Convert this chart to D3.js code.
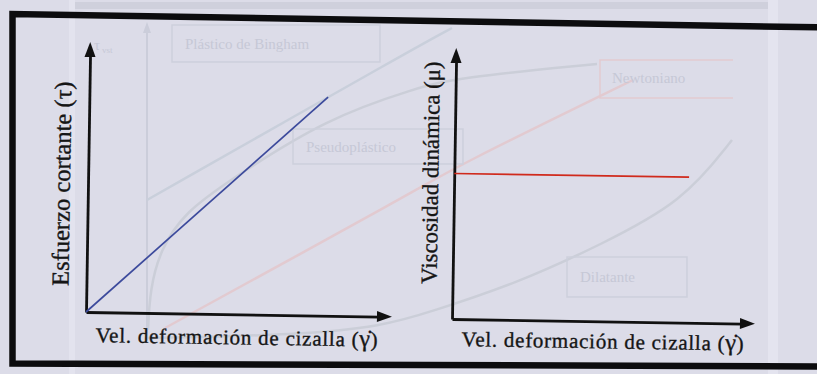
<!DOCTYPE html>
<html>
<head>
<meta charset="utf-8">
<script src="https://cdn.jsdelivr.net/npm/d3@7/dist/d3.min.js"></script>
<style>
    body { margin: 0; background: #dcdce8; }
    svg { display: block; }
</style>
</head>
<body>
<div id="chart"></div>
<script>
// left panel: newtonian fluid, shear stress grows linearly with shear rate
const rateLeft = [0, 0.78];
const stress = [0, 0.81];
// right panel: viscosity stays constant
const rateRight = [0, 0.775];
const viscosity = [0.537, 0.537];

const xLabel = "Vel. deformación de cizalla (";
const yLabels = ["Esfuerzo cortante (τ)", "Viscosidad dinámica (μ)"];

// faded figure showing through from the slide behind
const ghostBingham = [[147, 200], [420, 45], [452, 28]];
const ghostPseudo = [[148, 330], [150, 290], [160, 250], [185, 212], [230, 180], [327, 118], [417, 88], [455, 78], [597, 64]];
const ghostNewton = [[165, 328], [417, 190], [453, 168], [633, 80]];
const ghostDilat = [[147, 338], [300, 335], [383, 326], [430, 312], [520, 282], [600, 245], [683, 202], [732, 140]];
const ghostBoxes = [
    {text: "Plástico de Bingham", x: 172, y: 25, w: 208, h: 37, c: "#cdcfdc"},
    {text: "Pseudoplástico", x: 293, y: 129, w: 170, h: 35, c: "#cdcfdc"},
    {text: "Dilatante", x: 567, y: 257, w: 120, h: 40, c: "#cdcfdc"}
];

const W = 817, H = 374;
const svg = d3.select("#chart").append("svg")
    .attr("width", W)
    .attr("height", H);

svg.append("rect").attr("width", W).attr("height", H).attr("fill", "#dcdce8");

// ghost layer
let ghost = svg.append("g");
ghost.append("rect").attr("x", 70).attr("y", 2).attr("width", 706).attr("height", 7).attr("fill", "#cfd0dc");
ghost.append("rect").attr("x", 69).attr("y", 0).attr("width", 6).attr("height", H).attr("fill", "#e3e3ee");
ghost.append("rect").attr("x", 768).attr("y", 0).attr("width", 10).attr("height", H).attr("fill", "#e4e4ef");
ghost.append("line").attr("x1", 147).attr("x2", 147).attr("y1", 28).attr("y2", 340)
    .attr("stroke", "#cbcdda").attr("stroke-width", 2);
ghost.append("path").attr("d", "M147,22 L143,33 L151,33 Z").attr("fill", "#cbcdda");

let gLine = d3.line().curve(d3.curveBasis);
ghost.append("path").attr("d", gLine(ghostBingham)).attr("fill", "none").attr("stroke", "#c9cfdb").attr("stroke-width", 2.5);
ghost.append("path").attr("d", gLine(ghostPseudo)).attr("fill", "none").attr("stroke", "#cbced8").attr("stroke-width", 2.5);
ghost.append("path").attr("d", gLine(ghostNewton)).attr("fill", "none").attr("stroke", "#e2cad0").attr("stroke-width", 2.5);
ghost.append("path").attr("d", gLine(ghostDilat)).attr("fill", "none").attr("stroke", "#cbced8").attr("stroke-width", 2.5);

ghostBoxes.forEach(b => {
    ghost.append("rect").attr("x", b.x).attr("y", b.y).attr("width", b.w).attr("height", b.h)
        .attr("fill", "none").attr("stroke", b.c).attr("stroke-width", 1.5);
    ghost.append("text").attr("x", b.x + 13).attr("y", b.y + b.h / 2 + 5)
        .attr("font-family", "Liberation Serif, serif").attr("font-size", 15)
        .attr("fill", "#c6c8d6").text(b.text);
});
// newtoniano box, open on the right
ghost.append("path").attr("d", "M733,60 H600 V98 H733").attr("fill", "none").attr("stroke", "#e2cad0").attr("stroke-width", 1.5);
ghost.append("text").attr("x", 612).attr("y", 83).attr("font-family", "Liberation Serif, serif")
    .attr("font-size", 15).attr("fill", "#c6c8d6").text("Newtoniano");
ghost.append("text").attr("x", 94).attr("y", 50).attr("font-family", "Liberation Serif, serif")
    .attr("font-size", 15).attr("fill", "#c6c8d6").text("τ");
ghost.append("text").attr("x", 102).attr("y", 53).attr("font-family", "Liberation Serif, serif")
    .attr("font-size", 9).attr("fill", "#c6c8d6").text("vst");

// frame
svg.append("path")
    .attr("d", "M830,27.5 L12.5,14 L12.5,363.5 L830,366.5")
    .attr("fill", "none")
    .attr("stroke", "#0c0c0e")
    .attr("stroke-width", 6.5)
    .attr("stroke-linejoin", "miter");

function drawPanel(opts) {
    let g = svg.append("g")
        .attr("transform", `translate(${opts.ox},${opts.oy}) rotate(0.9)`);

    let x = d3.scaleLinear().domain([0, 1]).range([0, opts.w]);
    let y = d3.scaleLinear().domain([0, 1]).range([0, -opts.h]);
    let arrow = 15;

    let xAxis = d3.axisBottom(x.copy().range([0, opts.w - arrow + 2])).tickValues([]).tickSizeOuter(0);
    let yAxis = d3.axisLeft(y.copy().range([0, -opts.h + arrow - 2])).tickValues([]).tickSizeOuter(0);

    g.append("g").call(xAxis).select(".domain")
        .attr("stroke", "#111").attr("stroke-width", 2.8);
    g.append("g").call(yAxis).select(".domain")
        .attr("stroke", "#111").attr("stroke-width", 2.8);

    g.append("path")
        .attr("d", `M${x(1)},0 L${x(1) - arrow},-5.5 L${x(1) - arrow},5.5 Z`)
        .attr("fill", "#111");
    g.append("path")
        .attr("d", `M0,${y(1)} L-5.5,${y(1) + arrow} L5.5,${y(1) + arrow} Z`)
        .attr("fill", "#111");

    let line = d3.line()
        .x(d => x(d[0]))
        .y(d => y(d[1]));

    g.append("path")
        .datum(d3.zip(opts.xs, opts.ys))
        .attr("d", line)
        .attr("fill", "none")
        .attr("stroke", opts.color)
        .attr("stroke-width", 1.7);

    let xl = g.append("text")
        .attr("x", 10)
        .attr("y", opts.xLabelDy)
        .attr("font-family", "Liberation Serif, Times New Roman, serif")
        .attr("font-size", 21)
        .attr("letter-spacing", "0.75px")
        .attr("fill", "#151515")
        .attr("stroke", "#151515")
        .attr("stroke-width", 0.35)
        .text(xLabel);
    // gamma with combining dot above
    xl.append("tspan").attr("font-size", 24).text("γ\u0307");
    xl.append("tspan").text(")");

    g.append("text")
        .attr("transform", `translate(${opts.yLabelDx},${opts.yLabelCy}) rotate(-90)`)
        .attr("text-anchor", "middle")
        .attr("font-family", "Liberation Serif, Times New Roman, serif")
        .attr("font-size", opts.yFont)
        .attr("fill", "#151515")
        .attr("stroke", "#151515")
        .attr("stroke-width", 0.35)
        .text(opts.yLabel);
}

drawPanel({ox: 86, oy: 312, w: 306, h: 270, xs: rateLeft, ys: stress, color: "#3c4a9c",
    yLabel: yLabels[0], xLabelDy: 30, yLabelDx: -18, yLabelCy: -128, yFont: 24.5});
drawPanel({ox: 452, oy: 319, w: 303, h: 271, xs: rateRight, ys: viscosity, color: "#d02a1c",
    yLabel: yLabels[1], xLabelDy: 27, yLabelDx: -16, yLabelCy: -146, yFont: 22.8});
</script>
</body>
</html>
